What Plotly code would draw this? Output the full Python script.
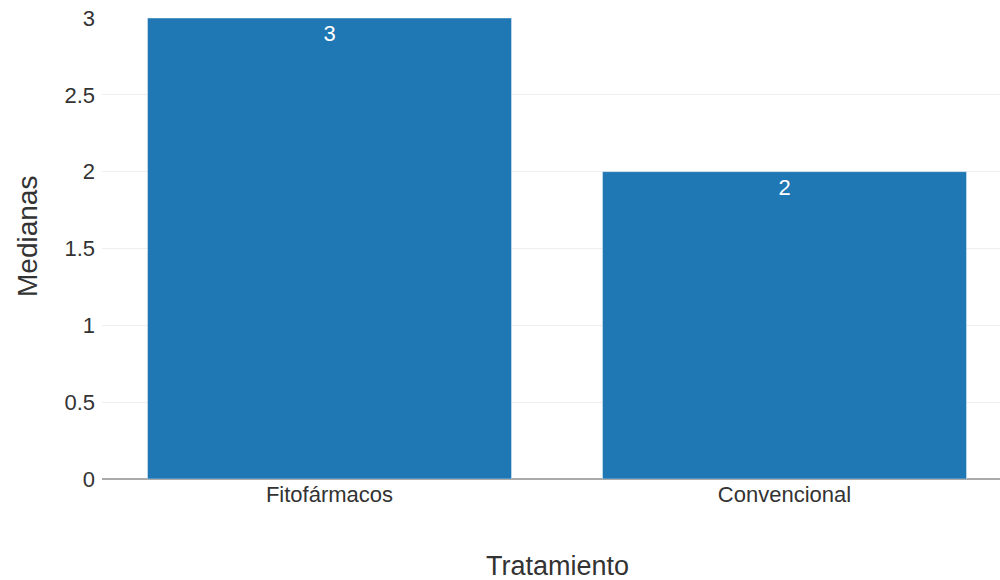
import plotly.graph_objects as go

categorias = ["Fitofármacos", "Convencional"]
medianas = [3, 2]
y_ticks = [0, 0.5, 1, 1.5, 2, 2.5, 3]
y_tick_labels = ["0", "0.5", "1", "1.5", "2", "2.5", "3"]
titulo_x = "Tratamiento"
titulo_y = "Medianas"

fig = go.Figure(
    go.Bar(
        x=categorias,
        y=medianas,
        text=[str(v) for v in medianas],
        textposition="inside",
        insidetextanchor="end",
        textfont=dict(color="white", size=22, family="Liberation Sans, Arial"),
        marker=dict(color="#1f77b4", line=dict(color="#E5ECF6", width=0.5)),
        hoverinfo="skip",
    )
)

fig.update_layout(
    template="plotly",
    width=1000,
    height=580,
    margin=dict(l=102, r=0, t=18, b=101),
    paper_bgcolor="white",
    plot_bgcolor="white",
    bargap=0.2,
    showlegend=False,
    font=dict(family="Liberation Sans, Arial", color="#444444"),
    xaxis=dict(
        tickfont=dict(size=22, color="#333333"),
        range=[-0.5, 1.4736],
        showgrid=False,
        showline=False,
        ticks="",
    ),
    yaxis=dict(
        tickfont=dict(size=22, color="#333333"),
        range=[0, 3],
        tickvals=y_ticks,
        ticktext=y_tick_labels,
        showgrid=True,
        gridcolor="#eeeeee",
        gridwidth=1,
        zeroline=True,
        zerolinecolor="#aaaaaa",
        zerolinewidth=2,
        ticks="",
        ticklabelstandoff=6,
    ),
    annotations=[
        dict(text=titulo_x, xref="paper", yref="paper", x=0.5067, y=-0.1887,
             xanchor="center", yanchor="middle", showarrow=False,
             font=dict(size=27, color="#333333")),
        dict(text=titulo_y, xref="paper", yref="paper", x=-0.0824, y=0.525,
             xanchor="center", yanchor="middle", showarrow=False, textangle=-90,
             font=dict(size=28, color="#333333")),
    ],
)

fig.write_html("out.html")
